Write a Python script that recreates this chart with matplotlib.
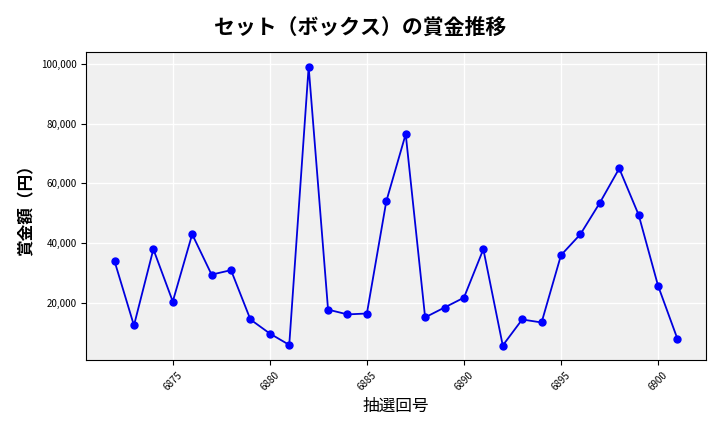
import matplotlib
matplotlib.use("Agg")
import matplotlib.pyplot as plt
from matplotlib.ticker import FuncFormatter

plt.rcParams['font.family'] = ['Noto Sans CJK JP', 'DejaVu Sans']

draws = list(range(6872, 6902))
prizes = [34000, 12500, 38000, 20500, 43000, 29500, 31000, 14500, 9800, 6000,
          99000, 17800, 16200, 16500, 54000, 76500, 15200, 18500, 21800, 38000,
          5800, 14500, 13500, 36000, 43000, 53500, 65000, 49500, 25800, 8000]

fig = plt.figure(figsize=(7.2, 4.32), dpi=100)
ax = fig.add_axes([0.12, 0.167, 0.86, 0.713])
ax.set_facecolor('#f0f0f0')
ax.grid(True, color='white', linewidth=1)
ax.set_axisbelow(True)
ax.plot(draws, prizes, color='#0000dd', marker='o', markersize=5, linewidth=1.3,
        markerfacecolor='blue', markeredgecolor='blue')
ax.set_xticks([6875, 6880, 6885, 6890, 6895, 6900])
ax.tick_params(axis='x', labelsize=7, rotation=45)
ax.tick_params(axis='y', labelsize=7)
ax.yaxis.set_major_formatter(FuncFormatter(lambda v, p: f'{int(v):,}'))
ax.set_ylim(1000, 104000)
ax.set_xlabel('抽選回号', fontsize=12)
ax.set_ylabel('賞金額（円）', fontsize=12, fontweight='bold')
fig.suptitle('セット（ボックス）の賞金推移', fontsize=15, fontweight='bold', y=0.96)
fig.savefig('out.png')
